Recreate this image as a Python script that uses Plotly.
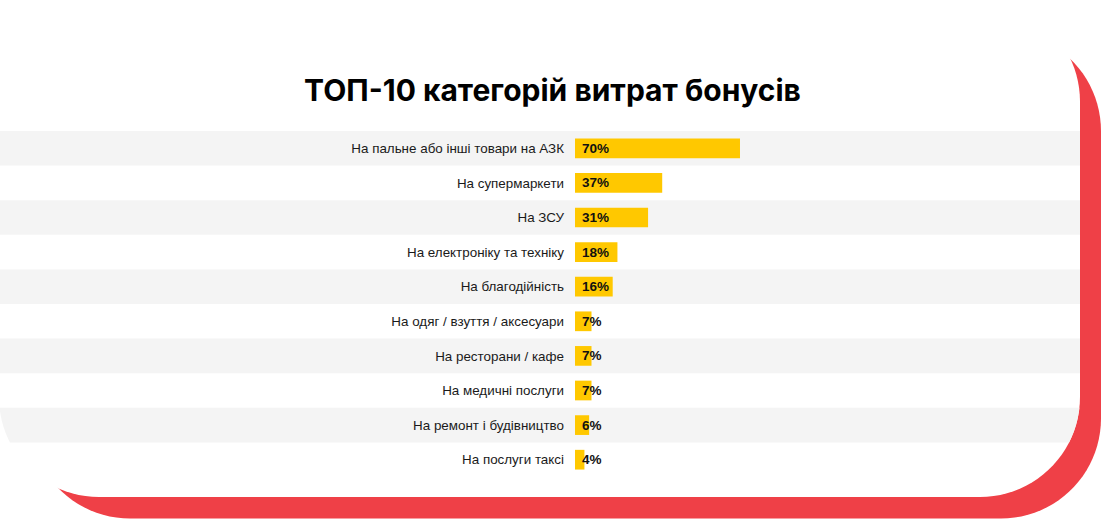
import plotly.graph_objects as go
import numpy as np

categories = [
    "На пальне або інші товари на АЗК",
    "На супермаркети",
    "На ЗСУ",
    "На електроніку та техніку",
    "На благодійність",
    "На одяг / взуття / аксесуари",
    "На ресторани / кафе",
    "На медичні послуги",
    "На ремонт і будівництво",
    "На послуги таксі",
]
values = [70, 37, 31, 18, 16, 7, 7, 7, 6, 4]
value_labels = ["70%", "37%", "31%", "18%", "16%", "7%", "7%", "7%", "6%", "4%"]
title_text = "ТОП-10 категорій витрат бонусів"

W, H = 1101, 519
ML, MR, MT, MB = 575, 21, 131, 42
PW, PH = W - ML - MR, H - MT - MB
XMAX = PW / 2.357

def px2paper(x, y):
    return (x - ML) / PW, 1 - (y - MT) / PH

def rounded_rect_pts(x0, y0, x1, y1, r, n=24):
    pts = []
    corners = [((x1 - r, y0 + r), -90, 0), ((x1 - r, y1 - r), 0, 90),
               ((x0 + r, y1 - r), 90, 180), ((x0 + r, y0 + r), 180, 270)]
    for (cx, cy), a0, a1 in corners:
        for a in np.linspace(np.radians(a0), np.radians(a1), n):
            pts.append((cx + r * np.cos(a), cy + r * np.sin(a)))
    return pts

def path_from_pts(pts):
    s = ""
    for i, (x, y) in enumerate(pts):
        px, py = px2paper(x, y)
        s += ("M" if i == 0 else "L") + f"{px:.5f},{py:.5f}"
    return s + "Z"

CARD = (-1, 1.5, 1080, 497, 100)
RED = (30, 31, 1101, 518.5, 100)

def card_dx(y):
    x0, y0, x1, y1, r = CARD
    if y > y1 - r:
        dy = y - (y1 - r)
        return r - np.sqrt(max(r * r - dy * dy, 0))
    if y < y0 + r:
        dy = (y0 + r) - y
        return r - np.sqrt(max(r * r - dy * dy, 0))
    return 0.0

shapes = []
shapes.append(dict(type="path", xref="paper", yref="paper", layer="below",
                   path=path_from_pts(rounded_rect_pts(*RED)),
                   fillcolor="#EF4047", line=dict(width=0)))
shapes.append(dict(type="path", xref="paper", yref="paper", layer="below",
                   path=path_from_pts(rounded_rect_pts(*CARD)),
                   fillcolor="#FFFFFF", line=dict(width=0)))

pitch = PH / len(categories)
for i in range(0, len(categories), 2):
    yt = MT + i * pitch
    yb = yt + pitch
    ys = np.linspace(yt, yb, 12)
    pts = [(CARD[0] + card_dx(y), y) for y in ys]
    pts += [(CARD[2] - card_dx(y), y) for y in ys[::-1]]
    shapes.append(dict(type="path", xref="paper", yref="paper", layer="below",
                       path=path_from_pts(pts),
                       fillcolor="#F4F4F4", line=dict(width=0)))

fig = go.Figure()
fig.add_trace(go.Bar(
    x=values, y=categories, orientation="h",
    marker=dict(color="#FFC800", line=dict(width=0)),
    hoverinfo="skip",
))

annotations = []
for c, lab in zip(categories, value_labels):
    annotations.append(dict(x=0, y=c, xref="x", yref="y", text=f"<b>{lab}</b>",
                            showarrow=False, xanchor="left", yanchor="middle",
                            xshift=5,
                            font=dict(family="Liberation Sans, Arial", size=13.5, color="#111111")))

fig.update_layout(
    width=W, height=H,
    margin=dict(l=ML, r=MR, t=MT, b=MB, pad=0),
    paper_bgcolor="#FFFFFF",
    plot_bgcolor="rgba(0,0,0,0)",
    bargap=0.43,
    showlegend=False,
    shapes=shapes,
    annotations=annotations,
    title=dict(text=f"<b>{title_text}</b>", x=552.5 / W, xanchor="center",
               y=1 - 90 / H, yanchor="middle", yref="container", xref="container",
               font=dict(family="Inter", size=30, color="#000000")),
    xaxis=dict(range=[0, XMAX], visible=False, fixedrange=True),
    yaxis=dict(autorange="reversed", showgrid=False, zeroline=False,
               showline=False, ticks="", ticklabelstandoff=10,
               tickfont=dict(family="Liberation Sans, Arial", size=13.4, color="#1A1A1A")),
)

fig.write_html("out.html")
